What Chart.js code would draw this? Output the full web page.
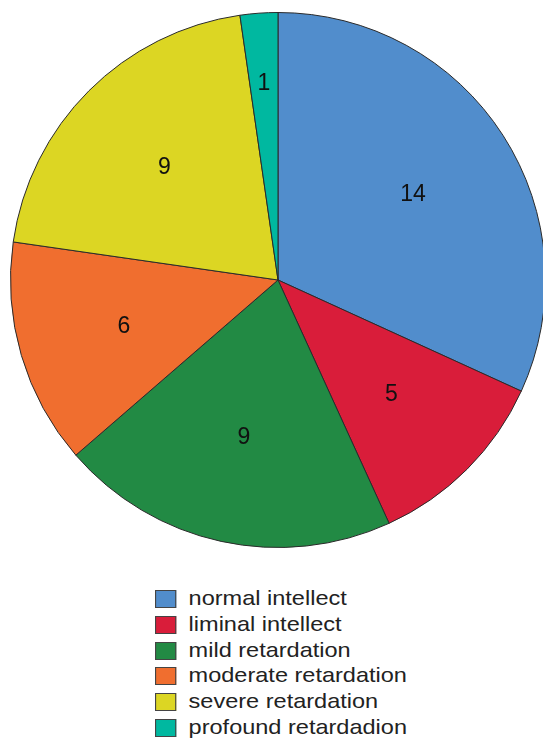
<!DOCTYPE html>
<html>
<head>
<meta charset="utf-8">
<title>Intellect</title>
<script src="https://cdn.jsdelivr.net/npm/chart.js@4"></script>
<style>
  html, body { margin: 0; padding: 0; background: #fff; overflow: hidden; }
  #wrap { position: relative; width: 543px; height: 745px; overflow: hidden; }
  #pie { position: absolute; left: 0; top: 0; }
  #legend { position: absolute; left: 155px; top: 585px; font-family: "Liberation Sans", Arial, sans-serif; font-size: 21px; color: #222; transform: scaleX(1.12); transform-origin: 0 0; }
  #legend div { height: 25.8px; line-height: 25.8px; white-space: nowrap; }
  #legend span.box { display: inline-block; width: 19px; height: 18px; border: 1.5px solid #444; vertical-align: -3px; margin-right: 11px; box-sizing: border-box; }
</style>
</head>
<body>
<div id="wrap">
  <canvas id="pie" width="556" height="560"></canvas>
  <div id="legend"></div>
</div>
<script>
// categories and counts
const categories = [
    "normal intellect",
    "liminal intellect",
    "mild retardation",
    "moderate retardation",
    "severe retardation",
    "profound retardadion"
];
const counts = [14, 5, 9, 6, 9, 1];
const sliceColors = ["#518dcc", "#d91d3a", "#228a44", "#f06e2f", "#dcd623", "#00b8a0"];

// write the count inside each slice
const sliceLabels = {
    id: "sliceLabels",
    afterDatasetsDraw(chart) {
        const ctx = chart.ctx;
        const meta = chart.getDatasetMeta(0);
        ctx.save();
        ctx.font = "23px 'Liberation Sans', Arial, sans-serif";
        ctx.fillStyle = "#111";
        ctx.textAlign = "center";
        ctx.textBaseline = "middle";
        meta.data.forEach((arc, i) => {
            const p = arc.getProps(["x", "y", "startAngle", "endAngle", "outerRadius"], true);
            const mid = (p.startAngle + p.endAngle) / 2;
            const span = p.endAngle - p.startAngle;
            const r = p.outerRadius * (span < 0.3 ? 0.74 : 0.6);
            ctx.fillText(String(counts[i]), p.x + Math.cos(mid) * r, p.y + Math.sin(mid) * r + 1);
        });
        ctx.restore();
    }
};

new Chart(document.getElementById("pie"), {
    type: "pie",
    data: {
        labels: categories,
        datasets: [{
            data: counts,
            backgroundColor: sliceColors,
            borderColor: "#2a2a2a",
            borderWidth: 1
        }]
    },
    options: {
        responsive: false,
        animation: false,
        layout: { padding: { left: 10, right: 10, top: 11, bottom: 11 } },
        plugins: {
            legend: { display: false },
            tooltip: { enabled: false }
        }
    },
    plugins: [sliceLabels]
});

// legend list under the pie
const legend = document.getElementById("legend");
categories.forEach((name, i) => {
    const row = document.createElement("div");
    row.innerHTML = `<span class="box" style="background:${sliceColors[i]}"></span>${name}`;
    legend.appendChild(row);
});
</script>
</body>
</html>
